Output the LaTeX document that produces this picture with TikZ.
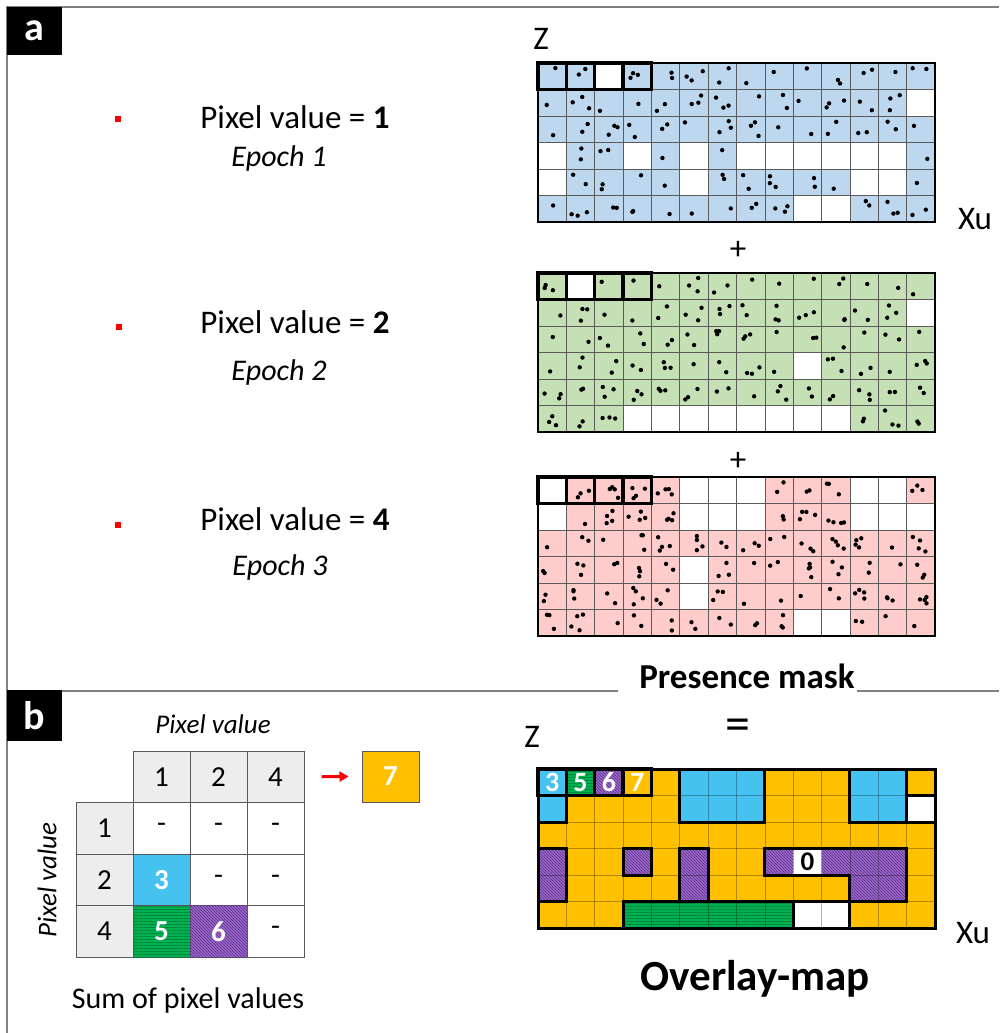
\documentclass[tikz,border=0pt]{standalone}
\usepackage{fontspec}
\setmainfont{Carlito}
\usetikzlibrary{patterns,arrows.meta}
\definecolor{lblue}{HTML}{BDD7EE}
\definecolor{lgreen}{HTML}{C5E0B4}
\definecolor{lpink}{HTML}{FFCCCC}
\definecolor{oblue}{HTML}{45C2F0}
\definecolor{oorange}{HTML}{FFC000}
\definecolor{ogreen}{HTML}{00B050}
\definecolor{ogreenD}{HTML}{007A36}
\definecolor{opurple}{HTML}{A07CCB}
\definecolor{opurpleD}{HTML}{6B2E9E}
\definecolor{framegray}{HTML}{808080}
\definecolor{tgray}{HTML}{595959}
\definecolor{hgray}{HTML}{EDEDED}
\definecolor{gridgray}{HTML}{5A5A5A}

\pgfdeclarepatternformonly{mynwlines}{\pgfqpoint{-1pt}{-1pt}}{\pgfqpoint{4pt}{4pt}}{\pgfqpoint{3pt}{3pt}}{%
  \pgfsetlinewidth{1pt}%
  \pgfpathmoveto{\pgfqpoint{0pt}{3pt}}%
  \pgfpathlineto{\pgfqpoint{3.1pt}{-0.1pt}}%
  \pgfusepath{stroke}}
\pgfdeclarepatternformonly{myhlines}{\pgfpointorigin}{\pgfqpoint{100pt}{3pt}}{\pgfqpoint{100pt}{3pt}}{%
  \pgfsetlinewidth{0.9pt}%
  \pgfpathmoveto{\pgfqpoint{0pt}{0.5pt}}%
  \pgfpathlineto{\pgfqpoint{100pt}{0.5pt}}%
  \pgfusepath{stroke}}

\def\cw{28.357}
\def\ch{26.5}

% presence masks (row-major, 6 rows x 14 columns)
\def\maskB{{1,1,0,1,1,1,1,1,1,1,1,1,1,1,
            1,1,1,1,1,1,1,1,1,1,1,1,1,0,
            1,1,1,1,1,1,1,1,1,1,1,1,1,1,
            0,1,1,0,1,0,1,0,0,0,0,0,0,1,
            0,1,1,1,1,0,1,1,1,1,1,0,0,1,
            1,1,1,1,1,1,1,1,1,0,0,1,1,1}}
\def\maskG{{1,0,1,1,1,1,1,1,1,1,1,1,1,1,
            1,1,1,1,1,1,1,1,1,1,1,1,1,0,
            1,1,1,1,1,1,1,1,1,1,1,1,1,1,
            1,1,1,1,1,1,1,1,1,0,1,1,1,1,
            1,1,1,1,1,1,1,1,1,1,1,1,1,1,
            1,1,1,0,0,0,0,0,0,0,0,1,1,1}}
\def\maskP{{0,1,1,1,1,0,0,0,1,1,1,0,0,1,
            0,1,1,1,1,0,0,0,1,1,1,0,0,0,
            1,1,1,1,1,1,1,1,1,1,1,1,1,1,
            1,1,1,1,1,0,1,1,1,1,1,1,1,1,
            1,1,1,1,1,0,1,1,1,1,1,1,1,1,
            1,1,1,1,1,1,1,1,1,0,0,1,1,1}}
% overlay values
\def\ovfill{{3,5,6,7,7,3,3,3,7,7,7,3,3,7,
             3,7,7,7,7,3,3,3,7,7,7,3,3,0,
             7,7,7,7,7,7,7,7,7,7,7,7,7,7,
             6,7,7,6,7,6,7,7,6,0,6,6,6,7,
             6,7,7,7,7,6,7,7,7,7,7,6,6,7,
             7,7,7,5,5,5,5,5,5,0,0,7,7,7}}
\def\ovcls{{3,5,6,7,7,3,3,3,7,7,7,3,3,7,
            3,7,7,7,7,3,3,3,7,7,7,3,3,0,
            7,7,7,7,7,7,7,7,7,7,7,7,7,7,
            6,7,7,6,7,6,7,7,6,6,6,6,6,7,
            6,7,7,7,7,6,7,7,7,7,7,6,6,7,
            7,7,7,5,5,5,5,5,5,0,0,7,7,7}}

\newcommand\dotgrid[4]{%
\begin{scope}[shift={(538,#1)}]
\foreach \r in {0,...,5}{%
 \foreach \c in {0,...,13}{%
  \pgfmathtruncatemacro\mcell{#3[\r*14+\c]}%
  \ifnum\mcell=1\relax
   \fill[#2] ({\c*\cw},{\r*\ch}) rectangle ++(\cw,\ch);
   \pgfmathtruncatemacro\nd{1+int(rnd*#4)}%
   \foreach \k in {1,...,\nd}{%
     \pgfmathsetmacro\dx{\c*\cw+5+rnd*(\cw-10)}%
     \pgfmathsetmacro\dy{\r*\ch+5+rnd*(\ch-10)}%
     \fill[black] (\dx,\dy) circle (2.2pt);
   }%
  \fi
 }%
}%
\foreach \c in {1,...,13} \draw[gline] ({\c*\cw},0) -- ++(0,{6*\ch});
\foreach \r in {1,...,5} \draw[gline] (0,{\r*\ch}) -- ++({14*\cw},0);
\draw[outerb] (0,0) rectangle ({14*\cw},{6*\ch});
\foreach \c in {0,...,3} \draw[hl] ({\c*\cw},0) rectangle ++(\cw,\ch);
\end{scope}}

\begin{document}
\begin{tikzpicture}[x=1pt,y=-1pt,
  frame/.style={draw=framegray,line width=1.5pt},
  gline/.style={draw=gridgray,line width=0.7pt},
  outerb/.style={draw=black,line width=2.5pt},
  hl/.style={draw=black,line width=3.5pt},
  bd/.style={draw=black,line width=3pt,line cap=rect},
  labbox/.style={fill=black,text=white,minimum width=55pt,inner sep=0pt,font=\fontsize{40}{42}\selectfont\bfseries},
  big/.style={font=\fontsize{33}{38}\selectfont},
  epo/.style={font=\fontsize{30}{34}\selectfont\itshape},
  rsq/.style={fill=red,minimum size=6pt,inner sep=0pt},
  tcell/.style={draw=tgray,line width=1pt,minimum width=57pt,minimum height=51.5pt,inner sep=0pt,font=\fontsize{29}{32}\selectfont},
  wnum/.style={text=white,font=\fontsize{28}{30}\selectfont\bfseries},
  onum/.style={font=\fontsize{27}{30}\selectfont\bfseries}
]
\useasboundingbox (0,0) rectangle (999,1033);
\fill[white] (0,0) rectangle (999,1033);
\pgfmathsetseed{4321}

% frame
\draw[frame] (7,1033) -- (7,7) -- (999,7);
\draw[frame] (7,691) -- (618,691);
\draw[frame] (857,691) -- (999,691);
\node[labbox,minimum height=48pt] (la) at (34.5,31) {a};
\node[labbox,minimum height=51pt] (lb) at (34.5,715.5) {b};

% panel a: text
\node[rsq] (s1) at (118,119) {};
\node[big,anchor=base] (pv1) at (295,128) {Pixel value = \textbf{1}};
\node[epo,anchor=base] (ep1) at (279,166) {Epoch 1};
\node[rsq] (s2) at (119,327) {};
\node[big,anchor=base] (pv2) at (295,333) {Pixel value = \textbf{2}};
\node[epo,anchor=base] (ep2) at (279,380) {Epoch 2};
\node[rsq] (s3) at (118,525) {};
\node[big,anchor=base] (pv3) at (295,530) {Pixel value = \textbf{4}};
\node[epo,anchor=base] (ep3) at (280,575) {Epoch 3};

% presence masks
\dotgrid{63}{lblue}{\maskB}{3}
\dotgrid{273}{lgreen}{\maskG}{3}
\dotgrid{477}{lpink}{\maskP}{4}

\node[big,inner sep=0pt] (z1) at (541,39) {Z};
\node[big,inner sep=0pt] (xu1) at (975,219) {Xu};
\node[big,inner sep=0pt] (p1) at (738,250) {+};
\node[big,inner sep=0pt] (p2) at (738,461) {+};
\node[anchor=base,font=\fontsize{35}{38}\selectfont\bfseries] (pm) at (747,688) {Presence mask};
\node[inner sep=0pt,font=\fontsize{50}{52}\selectfont] (eq) at (738,730) {=};
\node[big,inner sep=0pt] (z2) at (532,737) {Z};
\node[big,inner sep=0pt] (xu2) at (973,933) {Xu};
\node[anchor=base,font=\fontsize{43}{46}\selectfont\bfseries] (om) at (755,990) {Overlay-map};

% overlay map
\begin{scope}[shift={(538,769)}]
\foreach \r in {0,...,5}{%
 \foreach \c in {0,...,13}{%
  \pgfmathtruncatemacro\cellv{\ovfill[\r*14+\c]}%
  \ifnum\cellv=3 \fill[oblue] ({\c*\cw},{\r*\ch}) rectangle ++(\cw,\ch);\fi
  \ifnum\cellv=7 \fill[oorange] ({\c*\cw},{\r*\ch}) rectangle ++(\cw,\ch);\fi
  \ifnum\cellv=5 \fill[ogreen] ({\c*\cw},{\r*\ch}) rectangle ++(\cw,\ch);
     \fill[pattern=myhlines,pattern color=ogreenD] ({\c*\cw},{\r*\ch}) rectangle ++(\cw,\ch);\fi
  \ifnum\cellv=6 \fill[opurple] ({\c*\cw},{\r*\ch}) rectangle ++(\cw,\ch);
     \fill[pattern=mynwlines,pattern color=opurpleD] ({\c*\cw},{\r*\ch}) rectangle ++(\cw,\ch);\fi
 }%
}%
\foreach \c in {1,...,13} \draw[black,opacity=0.3,line width=0.6pt] ({\c*\cw},0) -- ++(0,{6*\ch});
\foreach \r in {1,...,5} \draw[black,opacity=0.3,line width=0.6pt] (0,{\r*\ch}) -- ++({14*\cw},0);
\foreach \r in {0,...,5}{%
 \foreach \c in {0,...,12}{%
  \pgfmathtruncatemacro\va{\ovcls[\r*14+\c]}%
  \pgfmathtruncatemacro\vb{\ovcls[\r*14+\c+1]}%
  \ifnum\va=\vb\relax\else \draw[bd] ({(\c+1)*\cw},{\r*\ch}) -- ++(0,\ch);\fi
 }%
}%
\foreach \r in {0,...,4}{%
 \foreach \c in {0,...,13}{%
  \pgfmathtruncatemacro\va{\ovcls[\r*14+\c]}%
  \pgfmathtruncatemacro\vb{\ovcls[(\r+1)*14+\c]}%
  \ifnum\va=\vb\relax\else \draw[bd] ({\c*\cw},{(\r+1)*\ch}) -- ++(\cw,0);\fi
 }%
}%
\draw[bd] (0,0) rectangle ({14*\cw},{6*\ch});
\foreach \c in {0,...,3} \draw[hl] ({\c*\cw},0) rectangle ++(\cw,\ch);
\node[wnum] (o3) at ({0.5*\cw},{0.5*\ch}) {3};
\node[wnum] (o5) at ({1.5*\cw},{0.5*\ch}) {5};
\node[wnum] (o6) at ({2.5*\cw},{0.5*\ch}) {6};
\node[wnum] (o7) at ({3.5*\cw},{0.5*\ch}) {7};
\node[onum] (o0) at ({9.5*\cw},{3.5*\ch}) {0};
\end{scope}

% panel b: table
\node[anchor=base,font=\fontsize{27}{30}\selectfont\itshape] (pvt) at (213,733) {Pixel value};
\node[rotate=90,font=\fontsize{27}{30}\selectfont\itshape] (pvl) at (47,880) {Pixel value};
\node[tcell,fill=hgray] (h1) at (161.5,776.75) {1};
\node[tcell,fill=hgray] (h2) at (218.5,776.75) {2};
\node[tcell,fill=hgray] (h4) at (275.5,776.75) {4};
\node[tcell,fill=hgray] (r1) at (104.5,828.25) {1};
\node[tcell,fill=hgray] (r2) at (104.5,879.75) {2};
\node[tcell,fill=hgray] (r4) at (104.5,931.25) {4};
\node[tcell,fill=white] (c11) at (161.5,828.25) {-};
\node[tcell,fill=white] (c12) at (218.5,828.25) {-};
\node[tcell,fill=white] (c14) at (275.5,828.25) {-};
\node[tcell,fill=oblue,text=white,font=\fontsize{29}{30}\selectfont\bfseries] (c21) at (161.5,879.75) {3};
\node[tcell,fill=white] (c22) at (218.5,879.75) {-};
\node[tcell,fill=white] (c24) at (275.5,879.75) {-};
\node[tcell,fill=ogreen,postaction={pattern=myhlines,pattern color=ogreenD}] (c41) at (161.5,931.25) {};
\node[wnum,font=\fontsize{29}{30}\selectfont\bfseries] (t5) at (c41) {5};
\node[tcell,fill=opurple,postaction={pattern=mynwlines,pattern color=opurpleD}] (c42) at (218.5,931.25) {};
\node[wnum,font=\fontsize{29}{30}\selectfont\bfseries] (t6) at (c42) {6};
\node[tcell,fill=white] (c44) at (275.5,931.25) {-};
\node[tcell,fill=oorange,minimum height=51pt,text=white,font=\fontsize{29}{30}\selectfont\bfseries] (b7) at (390.5,776.5) {7};
\draw[red,line width=3pt,-{Triangle[length=9pt,width=10pt]}] ([xshift=17pt]h4.east) -- ([xshift=-13pt]b7.west);
\node[anchor=base,font=\fontsize{30}{34}\selectfont] (sum) at (188,1008) {Sum of pixel values};
\end{tikzpicture}
\end{document}
